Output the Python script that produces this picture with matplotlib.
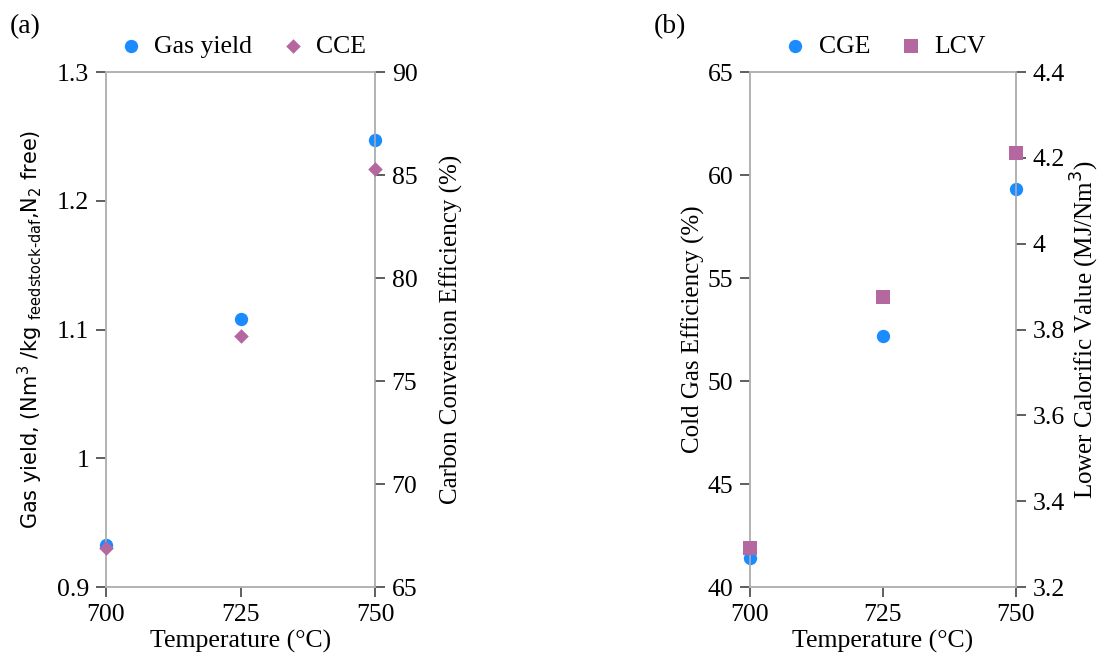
import matplotlib
matplotlib.use("Agg")
import matplotlib.pyplot as plt
from matplotlib.ticker import FuncFormatter

plt.rcParams["font.family"] = "Liberation Serif"
plt.rcParams["mathtext.fontset"] = "dejavusans"

# Gasification results versus temperature
temperature = [700, 725, 750]
gas_yield = [0.933, 1.108, 1.247]      # Nm3/kg feedstock (daf), N2 free
cce = [66.9, 77.2, 85.3]               # carbon conversion efficiency, %
cge = [41.4, 52.2, 59.3]               # cold gas efficiency, %
lcv = [3.29, 3.875, 4.212]             # lower calorific value, MJ/Nm3

x_ticks = [700, 725, 750]
BLUE = "#1a8cff"
PURPLE = "#b5679f"
SPINE = "#b0b0b0"
FS = 18.5

fig = plt.figure(figsize=(11.04, 6.63), dpi=100)
fmt = FuncFormatter(lambda v, p: f"{v:g}")


def style(ax):
    for s in ax.spines.values():
        s.set_color(SPINE)
        s.set_linewidth(1.1)
    ax.tick_params(direction="out", length=7, width=1.1, color="#333333",
                   labelsize=FS, pad=5)


def panel(rect, y1, y2, lim1, lim2, ticks1, ticks2, m2, s2,
          lab1, lab2, name1, name2, letter, ylab_kw, ylab2_kw):
    ax = fig.add_axes(rect)
    ax2 = ax.twinx()
    style(ax)
    style(ax2)
    h1 = ax.scatter(temperature, y1, s=92, marker="o", color=BLUE,
                    linewidths=0, clip_on=False, zorder=3, label=name1)
    h2 = ax2.scatter(temperature, y2, s=s2, marker=m2, color=PURPLE,
                     linewidths=0, clip_on=False, zorder=3, label=name2)
    ax.set_xlim(700, 750)
    ax.set_xticks(x_ticks)
    ax.set_ylim(*lim1)
    ax.set_yticks(ticks1)
    ax2.set_ylim(*lim2)
    ax2.set_yticks(ticks2)
    ax.yaxis.set_major_formatter(fmt)
    ax2.yaxis.set_major_formatter(fmt)
    ax.set_xlabel("Temperature (°C)", fontsize=FS, labelpad=3)
    ax.set_ylabel(lab1, **ylab_kw)
    ax2.set_ylabel(lab2, **ylab2_kw)
    ax2.legend([h1, h2], [name1, name2], loc="lower center",
               bbox_to_anchor=(0.5, 1.0), ncol=2, frameon=False,
               fontsize=FS, handletextpad=0.3, columnspacing=1.0,
               borderaxespad=0.15, handlelength=1.2)
    fig.text(rect[0] - 0.087, 0.96, letter, fontsize=20, va="center")
    return ax, ax2


panel([0.096, 0.1146, 0.2437, 0.7768], gas_yield, cce,
      (0.9, 1.3), (65, 90), [0.9, 1.0, 1.1, 1.2, 1.3],
      [65, 70, 75, 80, 85, 90], "D", 55,
      r"Gas yield, (Nm$^3$ /kg $_{\mathrm{feedstock\text{-}daf}}$,N$_2$ free)",
      "Carbon Conversion Efficiency (%)", "Gas yield", "CCE", "(a)",
      ylab_kw=dict(fontsize=15, family="DejaVu Sans", labelpad=9),
      ylab2_kw=dict(fontsize=18, labelpad=16))

panel([0.6793, 0.1146, 0.2409, 0.7768], cge, lcv,
      (40, 65), (3.2, 4.4), [40, 45, 50, 55, 60, 65],
      [3.2, 3.4, 3.6, 3.8, 4.0, 4.2, 4.4], "s", 95,
      "Cold Gas Efficiency (%)", r"Lower Calorific Value (MJ/Nm$^{3}$)",
      "CGE", "LCV", "(b)",
      ylab_kw=dict(fontsize=18, labelpad=2),
      ylab2_kw=dict(fontsize=18, labelpad=3))

fig.savefig("out.png", dpi=100)
